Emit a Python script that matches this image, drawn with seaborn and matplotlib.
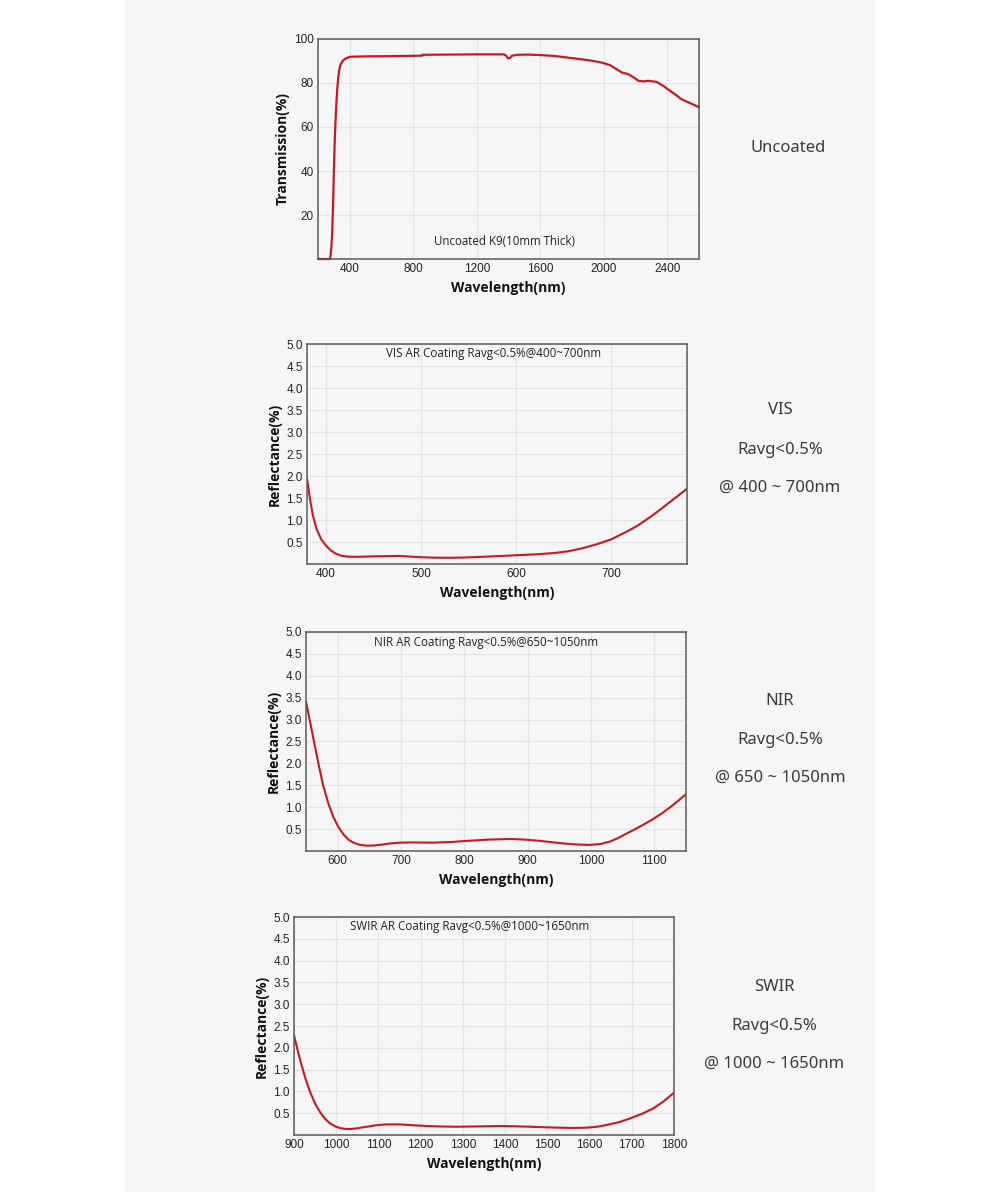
import numpy as np
import pandas as pd
import seaborn as sns
import matplotlib.pyplot as plt
from matplotlib.patches import Rectangle

# uncoated K9 transmission
uncoatedNm = [200, 275, 280, 285, 290, 295, 300, 306, 313, 320, 328, 336, 344, 355, 371, 390, 400, 500,
              650, 856, 858, 1000, 1200, 1370, 1385, 1397, 1410, 1422, 1453, 1520, 1600, 1700, 1798,
              1900, 1987, 2040, 2080, 2113, 2155, 2185, 2218, 2250, 2280, 2333, 2375, 2410, 2448,
              2490, 2540, 2600]
uncoatedT = [0, 0, 2, 6, 13, 25, 40, 55, 67, 76, 83, 86.8, 88.6, 90.0, 91.0, 91.6, 91.9, 92.1,
             92.2, 92.4, 92.8, 92.9, 93.0, 93.0, 92.4, 91.2, 91.4, 92.4, 92.8, 92.9, 92.7, 92.2, 91.3,
             90.4, 89.3, 88.1, 86.3, 84.8, 84.0, 82.7, 81.0, 80.7, 81.0, 80.5, 78.7, 76.8, 74.9,
             72.6, 71.0, 69.0]

# VIS AR coating
visNm = [380, 383, 386, 390, 395, 400, 405, 410, 416, 424, 435, 450, 465, 477, 488, 500, 515, 530,
         545, 560, 580, 600, 620, 640, 655, 670, 685, 700, 715, 727, 740, 752, 765, 780]
visR = [1.94, 1.5, 1.12, 0.8, 0.56, 0.42, 0.31, 0.24, 0.19, 0.167, 0.165, 0.175, 0.18, 0.185, 0.17,
        0.155, 0.145, 0.143, 0.148, 0.16, 0.18, 0.2, 0.22, 0.25, 0.29, 0.36, 0.45, 0.56, 0.72, 0.86,
        1.05, 1.24, 1.46, 1.71]

# NIR AR coating
nirNm = [550, 556, 562, 570, 577, 585, 593, 601, 609, 617, 625, 635, 646, 657, 667, 682, 698, 720,
         751, 780, 803, 840, 872, 895, 920, 950, 975, 998, 1015, 1029, 1042, 1055, 1070, 1085, 1097,
         1112, 1125, 1138, 1150]
nirR = [3.41, 2.98, 2.54, 1.97, 1.5, 1.1, 0.78, 0.55, 0.38, 0.26, 0.19, 0.14, 0.12, 0.125, 0.14,
        0.17, 0.19, 0.195, 0.19, 0.205, 0.23, 0.26, 0.275, 0.26, 0.23, 0.18, 0.15, 0.137, 0.16, 0.21,
        0.29, 0.39, 0.5, 0.62, 0.72, 0.86, 1.0, 1.15, 1.3]

# SWIR AR coating
swirNm = [900, 909, 918, 928, 938, 950, 962, 974, 985, 997, 1009, 1020, 1033, 1050, 1072, 1095, 1119,
          1151, 1180, 1214, 1250, 1285, 1340, 1388, 1425, 1459, 1495, 1530, 1560, 1593, 1618, 1640,
          1668, 1696, 1725, 1751, 1775, 1800]
swirR = [2.29, 1.93, 1.6, 1.27, 0.99, 0.72, 0.52, 0.37, 0.27, 0.2, 0.16, 0.142, 0.137, 0.155, 0.19,
         0.225, 0.244, 0.244, 0.225, 0.206, 0.195, 0.19, 0.198, 0.206, 0.2, 0.19, 0.178, 0.168, 0.162,
         0.168, 0.19, 0.23, 0.29, 0.38, 0.49, 0.61, 0.77, 0.97]

sideLabels = [
    ["Uncoated"],
    ["VIS", "Ravg<0.5%", "@ 400 ~ 700nm"],
    ["NIR", "Ravg<0.5%", "@ 650 ~ 1050nm"],
    ["SWIR", "Ravg<0.5%", "@ 1000 ~ 1650nm"],
]

sns.set_style("whitegrid")
plt.rcParams['font.family'] = ['Liberation Sans', 'DejaVu Sans']

panelColor = '#f6f6f8'
lineColor = '#c8191e'
noteFont = ['Open Sans', 'DejaVu Sans']

fig = plt.figure(figsize=(10, 11.92), dpi=100)
fig.patch.set_facecolor('white')
fig.patches.append(Rectangle((0.125, 0), 0.75, 1, transform=fig.transFigure,
                             facecolor=panelColor, edgecolor='none', zorder=-10))


def styleAxes(ax, xlim, xticks, ylim, yticks, ylabel):
    ax.set_facecolor(panelColor)
    ax.set_xlim(*xlim)
    ax.set_ylim(*ylim)
    ax.set_xticks(xticks)
    ax.set_yticks(yticks)
    ax.grid(True, color='#e3e3e6', linewidth=0.8)
    for s in ax.spines.values():
        s.set_color('#5a5a5a')
        s.set_linewidth(1.1)
    ax.tick_params(length=0, labelsize=8.5, colors='#222222', pad=3)
    ax.set_xlabel('Wavelength(nm)', fontsize=10, fontweight='bold', labelpad=4, color='#111111',
                  family=noteFont)
    ax.set_ylabel(ylabel, fontsize=10, fontweight='bold', labelpad=3, color='#111111',
                  family=noteFont)


# chart 1: transmission
ax1 = fig.add_axes([0.318, 0.7827, 0.381, 0.1846])
sns.lineplot(x=uncoatedNm, y=uncoatedT, ax=ax1, color=lineColor, linewidth=1.6)
ax1.lines[0].set_clip_on(False)
styleAxes(ax1, (200, 2600), [400, 800, 1200, 1600, 2000, 2400], (0, 100), [20, 40, 60, 80, 100],
          'Transmission(%)')
ax1.text(0.49, 0.08, 'Uncoated K9(10mm Thick)', transform=ax1.transAxes, ha='center', va='center',
         fontsize=8.3, family=noteFont, color='#222222')

reflTicks = [0.5, 1.0, 1.5, 2.0, 2.5, 3.0, 3.5, 4.0, 4.5, 5.0]

# chart 2: VIS
ax2 = fig.add_axes([0.307, 0.5268, 0.380, 0.1846])
sns.lineplot(x=visNm, y=visR, ax=ax2, color=lineColor, linewidth=1.5)
styleAxes(ax2, (380, 780), [400, 500, 600, 700], (0, 5), reflTicks, 'Reflectance(%)')
ax2.text(0.49, 0.955, 'VIS AR Coating Ravg<0.5%@400~700nm', transform=ax2.transAxes, ha='center',
         va='center', fontsize=8.4, family=noteFont, color='#222222')

# chart 3: NIR
ax3 = fig.add_axes([0.306, 0.2861, 0.380, 0.1837])
sns.lineplot(x=nirNm, y=nirR, ax=ax3, color=lineColor, linewidth=1.5)
styleAxes(ax3, (550, 1150), [600, 700, 800, 900, 1000, 1100], (0, 5), reflTicks, 'Reflectance(%)')
ax3.text(0.474, 0.951, 'NIR AR Coating Ravg<0.5%@650~1050nm', transform=ax3.transAxes, ha='center',
         va='center', fontsize=8.4, family=noteFont, color='#222222')

# chart 4: SWIR
ax4 = fig.add_axes([0.294, 0.0478, 0.380, 0.1829])
sns.lineplot(x=swirNm, y=swirR, ax=ax4, color=lineColor, linewidth=1.5)
styleAxes(ax4, (900, 1800), list(range(900, 1801, 100)), (0, 5), reflTicks, 'Reflectance(%)')
ax4.text(0.463, 0.957, 'SWIR AR Coating Ravg<0.5%@1000~1650nm', transform=ax4.transAxes,
         ha='center', va='center', fontsize=8.4, family=noteFont, color='#222222')

# side labels, pixel centres
sidePos = [(788, [148]), (780, [410, 450, 488]), (780, [701, 740, 778]), (774, [987, 1026, 1064])]
for lines, (px, pys) in zip(sideLabels, sidePos):
    for txt, py in zip(lines, pys):
        fig.text(px / 1000, 1 - py / 1192, txt, ha='center', va='center', fontsize=12,
                 family=['Noto Sans', 'DejaVu Sans'], color='#3a3a3a')

fig.savefig('out.png', dpi=100)
